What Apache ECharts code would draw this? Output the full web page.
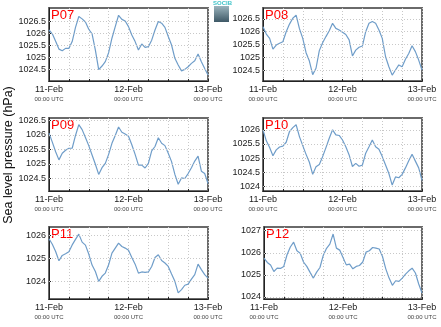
<!DOCTYPE html>
<html><head><meta charset="utf-8">
<script src="https://cdn.jsdelivr.net/npm/echarts@6/dist/echarts.min.js"></script>
<style>html,body{margin:0;padding:0;background:#fff}#c{width:441px;height:327px}</style>
</head><body><div id="c"></div>
<script>
const hours = [0,1,2,3,4,5,6,7,8,9,10,11,12,13,14,15,16,17,18,19,20,21,22,23,24,25,26,27,28,29,30,31,32,33,34,35,36,37,38,39,40,41,42,43,44,45,46,47,48];
const dayLabels = ['11-Feb','12-Feb','13-Feb'];
const timeLabel = '00:00 UTC';
const stations = ['P07','P08','P09','P10','P11','P12'];
const p07 = [1026.14,1025.98,1025.67,1025.35,1025.28,1025.38,1025.38,1025.66,1026.25,1026.7,1026.6,1026.47,1026.17,1025.98,1025.31,1024.5,1024.65,1024.83,1025.2,1025.8,1026.28,1026.75,1026.58,1026.51,1026.28,1025.93,1025.66,1025.31,1025.56,1025.42,1025.45,1025.72,1026.14,1026.49,1026.42,1026.25,1025.87,1025.52,1024.97,1024.69,1024.45,1024.51,1024.62,1024.76,1024.87,1025.15,1024.83,1024.55,1024.28];
const p08 = [1026.2,1025.91,1025.74,1025.32,1025.48,1025.55,1025.61,1026.0,1026.3,1026.53,1026.65,1026.12,1025.74,1025.18,1024.85,1024.32,1024.57,1025.26,1025.57,1025.81,1026.04,1026.33,1026.13,1026.07,1025.98,1025.89,1025.68,1025.05,1025.28,1025.39,1025.44,1026.0,1026.33,1026.4,1026.33,1026.07,1025.74,1025.02,1024.63,1024.3,1024.5,1024.7,1024.63,1024.92,1025.15,1025.45,1025.22,1024.89,1024.5];
const p09 = [1026.06,1025.75,1025.42,1025.14,1025.37,1025.47,1025.54,1025.54,1025.98,1026.35,1026.18,1025.91,1025.63,1025.31,1024.99,1024.64,1024.87,1025.02,1025.33,1025.71,1025.98,1026.27,1026.09,1026.03,1025.95,1025.66,1025.33,1024.96,1024.96,1024.86,1025.02,1025.45,1025.6,1025.9,1025.71,1025.63,1025.37,1025.08,1024.64,1024.3,1024.52,1024.5,1024.67,1024.87,1025.1,1025.27,1024.75,1024.67,1024.33];
const p10 = [1026.0,1025.61,1025.37,1025.08,1025.29,1025.39,1025.42,1025.56,1025.94,1026.08,1026.18,1025.76,1025.44,1025.13,1024.85,1024.42,1024.69,1024.77,1025.05,1025.37,1025.7,1026.0,1025.82,1025.8,1025.64,1025.4,1025.11,1024.7,1024.81,1024.71,1024.75,1025.17,1025.4,1025.64,1025.4,1025.31,1025.05,1024.75,1024.45,1024.04,1024.33,1024.3,1024.42,1024.65,1024.9,1025.13,1024.89,1024.65,1024.21];
const p11 = [1025.86,1025.62,1025.3,1024.9,1025.13,1025.2,1025.29,1025.59,1025.83,1026.06,1025.71,1025.58,1025.19,1024.71,1024.43,1024.0,1024.22,1024.36,1024.72,1025.23,1025.45,1025.67,1025.52,1025.45,1025.36,1025.04,1024.75,1024.36,1024.41,1024.39,1024.41,1024.65,1025.04,1025.16,1024.91,1024.8,1024.65,1024.32,1024.0,1023.5,1023.64,1023.83,1023.88,1024.1,1024.29,1024.75,1024.51,1024.29,1024.14];
const p12 = [1025.76,1025.56,1025.44,1025.15,1025.3,1025.29,1025.38,1025.91,1026.26,1026.48,1026.09,1025.98,1025.58,1025.38,1025.11,1024.85,1025.12,1025.33,1025.88,1026.2,1026.39,1026.85,1026.21,1026.12,1025.79,1025.45,1025.48,1025.27,1025.38,1025.42,1025.58,1026.03,1026.09,1026.24,1026.21,1026.17,1025.83,1025.27,1024.85,1024.52,1024.73,1024.7,1024.85,1025.03,1025.18,1025.3,1025.08,1024.58,1024.17];
const yMins = [1024.03,1024.07,1024.07,1023.83,1023.23,1023.9];
const yMaxs = [1027.05,1026.93,1026.58,1026.42,1026.37,1027.17];
const yTicks = [
  [1024.5,1025,1025.5,1026,1026.5],
  [1024.5,1025,1025.5,1026,1026.5],
  [1024.5,1025,1025.5,1026,1026.5],
  [1024,1024.5,1025,1025.5,1026],
  [1024,1025,1026],
  [1024,1025,1026,1027]
];
const seriesValues = [p07,p08,p09,p10,p11,p12];

const grids = [
  {left:49, top:8, width:159, height:73},
  {left:263, top:8, width:159, height:73},
  {left:49, top:118, width:159, height:73},
  {left:263, top:118, width:159, height:73},
  {left:49, top:227, width:159, height:72},
  {left:264, top:227, width:158, height:72}
];
const FONT = '"Liberation Sans", Arial, sans-serif';
const dotted = {color:'#c8c8c8', type:[1,2], width:1};
const chart = echarts.init(document.getElementById('c'), null, {renderer:'canvas'});
const option = {
  backgroundColor:'#fff',
  animation:false,
  grid: grids.map(g => Object.assign({show:true, borderColor:'#6a6a6a', borderWidth:2, backgroundColor:'transparent'}, g)),
  xAxis: grids.map((g,i) => ({
    type:'value', gridIndex:i, min:0, max:48, interval:6,
    axisLine:{show:true, onZero:false, lineStyle:{color:'#222', width:1}},
    axisTick:{show:true, inside:true, length:2, lineStyle:{color:'#222'}},
    splitLine:{show:true, lineStyle:dotted},
    axisLabel:{
      showMinLabel:true, showMaxLabel:true, margin:4,
      formatter: v => { const k = v/24; return (Math.abs(k-Math.round(k))<1e-6) ? '{a|'+dayLabels[Math.round(k)]+'}\n{b|'+timeLabel+'}' : ''; },
      rich:{
        a:{fontFamily:FONT, fontSize:9, color:'#1a1a1a', lineHeight:10},
        b:{fontFamily:FONT, fontSize:6, color:'#444', lineHeight:9}
      }
    }
  })),
  yAxis: grids.map((g,i) => ({
    type:'value', gridIndex:i, min:yMins[i], max:yMaxs[i],
    axisLine:{show:true, onZero:false, lineStyle:{color:'#222', width:1}},
    axisTick:{show:true, inside:true, length:2, customValues:yTicks[i], lineStyle:{color:'#222'}},
    splitLine:{show:false},
    axisLabel:{
      margin:3, fontFamily:FONT, fontSize:9, color:'#1a1a1a', customValues:yTicks[i],
      formatter: v => String(parseFloat(Number(v).toFixed(2)))
    }
  })),
  series: seriesValues.map((vals,i) => ({
    type:'line', xAxisIndex:i, yAxisIndex:i, showSymbol:false, smooth:false,
    lineStyle:{color:'#6f9dc9', width:1.2},
    data: hours.map((h,j) => [h, vals[j]]),
    markLine:{
      silent:true, symbol:['none','none'], label:{show:false}, animation:false,
      lineStyle:dotted, emphasis:{disabled:true},
      data: yTicks[i].map(t => ({yAxis:t}))
    },
    z:3
  })),
  graphic: [
    ...grids.map((g,i) => ({
      type:'text', left:g.left+2, top:g.top+1,
      style:{text:stations[i], fill:'#ff0000', font:'13px '+FONT}
    })),
    {type:'text', rotation:Math.PI/2, x:9, y:155,
     style:{text:'Sea level pressure (hPa)', fill:'#111', font:'12.5px '+FONT, textAlign:'center', textVerticalAlign:'middle'}},
    {type:'rect', shape:{x:214, y:6, width:15, height:16},
     style:{fill:new echarts.graphic.LinearGradient(0,0,0,1,[{offset:0,color:'#9bb4bd'},{offset:1,color:'#3e5866'}])}},
    {type:'text', x:213, y:0, style:{text:'SOCIB', fill:'#3fc3c8', font:'bold 6px '+FONT}}
  ]
};
chart.setOption(option);
</script>
</body></html>
